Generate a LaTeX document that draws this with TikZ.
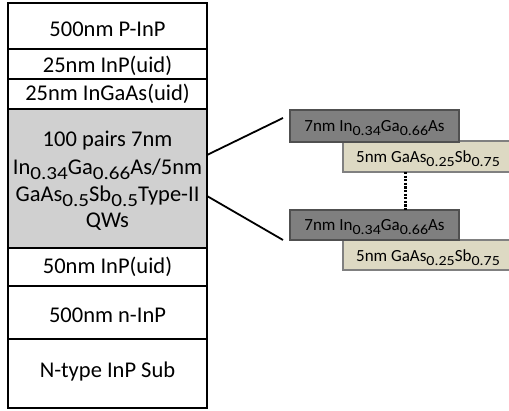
\documentclass[tikz,border=0pt]{standalone}
\usepackage{fontspec}
\setmainfont{Carlito}
\newcommand\lowsub[1]{\raisebox{-0.22em}{\scalebox{0.94}[0.82]{#1}}}
\definecolor{qwgray}{RGB}{208,208,208}
\definecolor{wellfill}{RGB}{127,127,127}
\definecolor{wellline}{RGB}{80,80,80}
\definecolor{barrierfill}{RGB}{221,217,195}
\definecolor{barrierline}{RGB}{128,128,128}
\tikzset{
  layer/.style={draw=black,line width=2.2pt},
  stacktext/.style={font=\fontsize{22.5}{27}\selectfont,inner sep=0pt,anchor=base},
  well/.style={draw=wellline,fill=wellfill,line width=1.5pt},
  barrier/.style={draw=barrierline,fill=barrierfill,line width=1.5pt},
  qwtext/.style={font=\fontsize{17}{20}\selectfont,inner sep=0pt,anchor=base},
  link/.style={line width=1.8pt},
}
\begin{document}
\begin{tikzpicture}[x=1pt,y=-1pt]
\useasboundingbox (0,0) rectangle (509,411);
\clip (0,0) rectangle (509,411);
% epitaxial stack
\draw[layer] (8,3) rectangle (207,49);
\draw[layer] (8,49) rectangle (207,79);
\draw[layer] (8,79) rectangle (207,109);
\draw[layer,fill=qwgray] (8,109) rectangle (207,248);
\draw[layer] (8,248) rectangle (207,286);
\draw[layer] (8,286) rectangle (207,339);
\draw[layer] (8,339) rectangle (207,408);
\node[stacktext] (pinp) at (107.5,37) {500nm P-InP};
\node[stacktext] (inp1) at (107.5,73) {25nm InP(uid)};
\node[stacktext] (ingaas) at (107.5,101) {25nm InGaAs(uid)};
\node[stacktext] (qw1) at (107.5,147) {100 pairs 7nm};
\node[stacktext] (qw2) at (107.5,175) {In\lowsub{0.34}Ga\lowsub{0.66}As/5nm};
\node[stacktext] (qw3) at (107.5,202) {GaAs\lowsub{0.5}Sb\lowsub{0.5}Type-II};
\node[stacktext] (qw4) at (107.5,227.5) {QWs};
\node[stacktext] (inp2) at (107.5,274) {50nm InP(uid)};
\node[stacktext] (ninp) at (107.5,323) {500nm n-InP};
\node[stacktext] (sub) at (107.5,378) {N-type InP Sub};
% magnified period of the superlattice
\coordinate (qwtop) at (207,155);
\coordinate (qwbot) at (207,196);
\draw[barrier] (343,141) rectangle (515,172);
\draw[well] (290,110) rectangle (459,142);
\draw[barrier] (343,240) rectangle (515,270);
\draw[well] (290,210) rectangle (459,240);
\node[qwtext] (w1) at (374.5,132) {7nm In\lowsub{0.34}Ga\lowsub{0.66}As};
\node[qwtext] (b1) at (428,163) {5nm GaAs\lowsub{0.25}Sb\lowsub{0.75}};
\node[qwtext] (w2) at (374.5,231) {7nm In\lowsub{0.34}Ga\lowsub{0.66}As};
\node[qwtext] (b2) at (428,262) {5nm GaAs\lowsub{0.25}Sb\lowsub{0.75}};
\coordinate (t1) at (283,118);
\coordinate (t2) at (283,240);
\coordinate (d1) at (405,172);
\coordinate (d2) at (405,210);
\draw[link] (qwtop) -- (t1);
\draw[link] (qwbot) -- (t2);
\draw[line width=3pt,dash pattern=on 2.2pt off 1.4pt] (d1) -- (d2);
\end{tikzpicture}
\end{document}
